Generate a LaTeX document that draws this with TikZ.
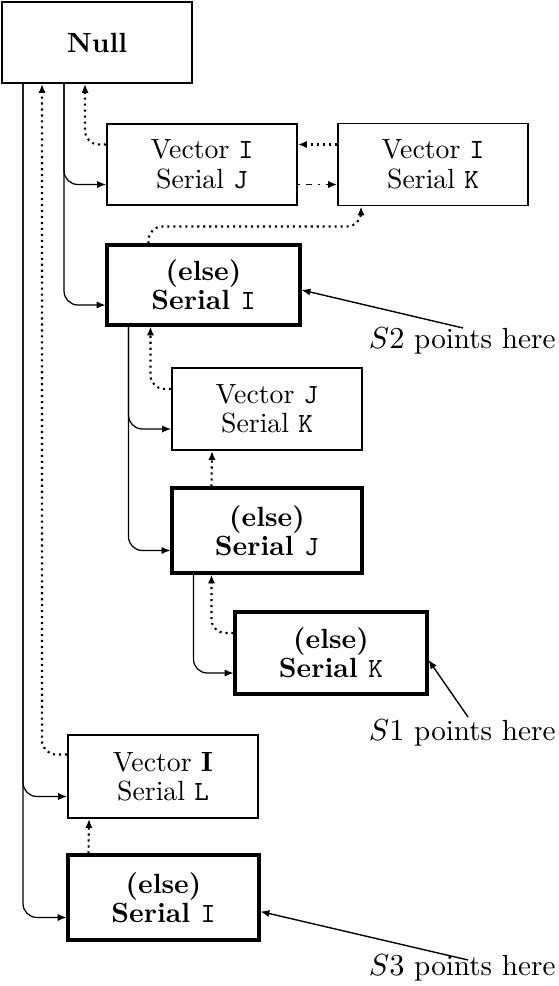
\documentclass[tikz,border=0pt]{standalone}
\usetikzlibrary{arrows.meta,calc}
\begin{document}
\begin{tikzpicture}[x=0.36pt,y=-0.36pt,
  box/.style={draw, line width=0.7pt, inner sep=0pt, align=center,
    font=\fontsize{10}{10.6}\selectfont},
  ebox/.style={box, line width=1.1pt, font=\fontsize{10}{10.6}\selectfont\bfseries},
  sz/.style 2 args={minimum width=#1*0.36pt, minimum height=#2*0.36pt},
  tip/.style={-{Latex[length=3.2pt,width=2.6pt]}},
  link/.style={tip, line width=0.45pt, rounded corners=5pt},
  dlink/.style={tip, line width=0.75pt, dash pattern=on 0.75pt off 1.4pt, rounded corners=5pt},
  ddlink/.style={tip, line width=0.5pt, dash pattern=on 0.8pt off 2.2pt on 2pt off 2.2pt},
  ptr/.style={tip, line width=0.5pt},
  lbl/.style={font=\fontsize{10.5}{12}\selectfont, inner sep=0pt}]
\useasboundingbox (0,0) rectangle (558,986);

% boxes
\node[box, sz={190}{81}, font=\fontsize{10}{11.5}\selectfont\bfseries] (null) at (97,42.5) {Null};
\node[box, sz={190}{81}] (vij) at (202,164.5) {Vector \texttt{I}\\Serial \texttt{J}};
\node[box, sz={190}{82}] (vik) at (433,164.5) {Vector \texttt{I}\\Serial \texttt{K}};
\node[ebox, sz={193}{80}] (esi) at (203.5,285) {(else)\\Serial \texttt{\mdseries I}};
\node[box, sz={190}{82}] (vjk) at (267,409) {Vector \texttt{J}\\Serial \texttt{K}};
\node[ebox, sz={190}{85}] (esj) at (267,530.5) {(else)\\Serial \texttt{\mdseries J}};
\node[ebox, sz={192}{82}] (esk) at (331,653) {(else)\\Serial \texttt{\mdseries K}};
\node[box, sz={190}{83}] (vil) at (163,776.5) {Vector \textbf{I}\\Serial \texttt{L}};
\node[ebox, sz={191}{85}] (esi2) at (163.5,897.5) {(else)\\Serial \texttt{\mdseries I}};

% labels
\node[lbl, anchor=base east] (s2) at (556,349) {$S2$ points here};
\node[lbl, anchor=base east] (s1) at (556,740) {$S1$ points here};
\node[lbl, anchor=base east] (s3) at (556,975) {$S3$ points here};
\coordinate (p2) at (463,328);
\coordinate (p1) at (468,717);
\coordinate (p3) at (468,960);

% solid links
\draw[link] ($(null.south west)+(22,0)$) |- ($(esi2.west)+(0,20)$);
\draw[link] ($(null.south west)+(22,0)$) |- ($(vil.west)+(0,20)$);
\draw[link] ($(null.south west)+(63,0)$) |- ($(esi.west)+(0,20)$);
\draw[link] ($(null.south west)+(63,0)$) |- ($(vij.west)+(0,20)$);
\draw[link] ($(esi.south west)+(23,0)$) |- ($(esj.west)+(0,20)$);
\draw[link] ($(esi.south west)+(23,0)$) |- ($(vjk.west)+(0,20)$);
\draw[link] ($(esj.south west)+(23,0)$) |- ($(esk.west)+(0,20)$);

% dotted links
\draw[dlink] ($(vil.west)+(0,-22)$) -| ($(null.south west)+(41,0)$);
\draw[dlink] ($(vij.west)+(0,-20)$) -| ($(null.south west)+(84,0)$);
\draw[dlink] ($(vik.west)+(0,-20)$) -- ($(vij.east)+(0,-20)$);
\draw[ddlink] ($(vij.east)+(0,20)$) -- ($(vik.west)+(0,20)$);
\draw[dlink] ($(esi.north west)+(43,0)$) |- ($(vik.south west)+(24,20)$) -- ($(vik.south west)+(24,0)$);
\draw[dlink] ($(vjk.west)+(0,-20)$) -| ($(esi.south west)+(45,0)$);
\draw[dlink] ($(esj.north west)+(41,0)$) -- ($(vjk.south west)+(41,0)$);
\draw[dlink] ($(esk.west)+(0,-20)$) -| ($(esj.south west)+(41,0)$);
\draw[dlink] ($(esi2.north west)+(22,0)$) -- ($(vil.south west)+(22,0)$);

% pointers
\draw[ptr] (p2) -- ($(esi.east)+(0,5)$);
\draw[ptr] (p1) -- ($(esk.east)+(0,7)$);
\draw[ptr] (p3) -- ($(esi2.east)+(0,14)$);
\end{tikzpicture}
\end{document}
